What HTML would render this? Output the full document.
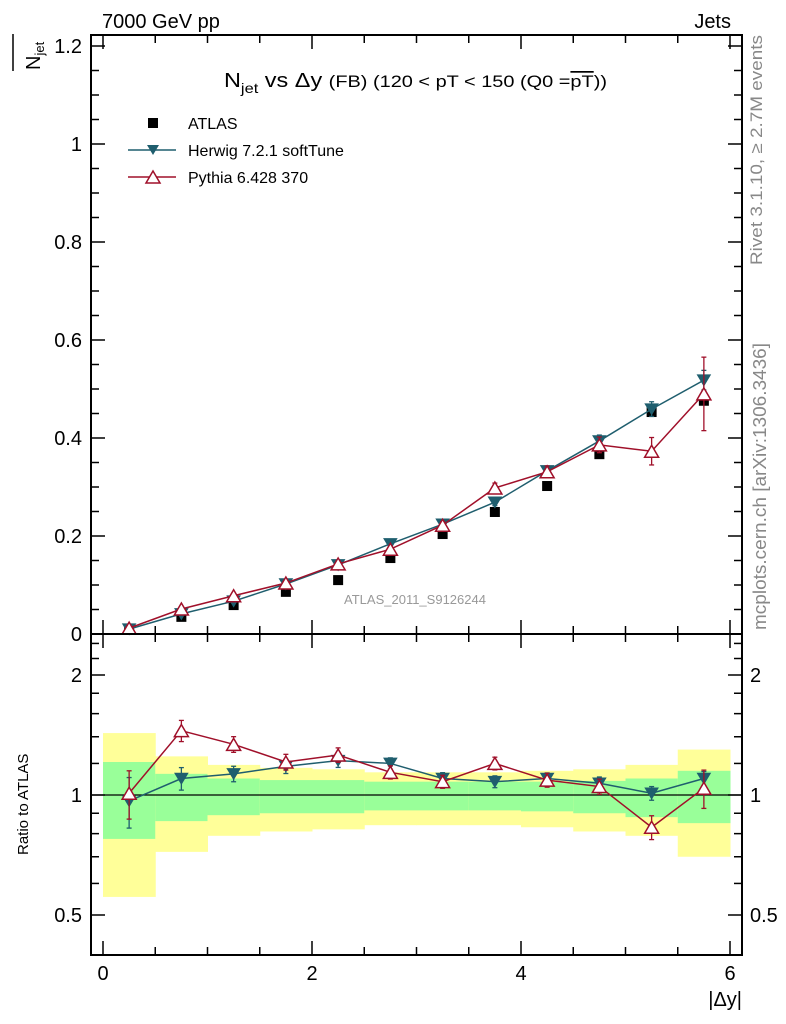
<!DOCTYPE html>
<html><head><meta charset="utf-8"><style>
html,body{margin:0;padding:0;background:#fff;}
svg{display:block;font-family:"Liberation Sans",sans-serif;}
</style></head><body>
<svg id="chart" width="786" height="1024" viewBox="0 0 786 1024" xmlns="http://www.w3.org/2000/svg">
<g id="bands"></g>
<g id="grid"></g>
<g id="series"></g>
<rect x="91" y="35" width="651" height="599" fill="none" stroke="#000" stroke-width="2"/>
<rect x="91" y="634" width="651" height="321" fill="none" stroke="#000" stroke-width="2"/>
<text x="102" y="28" font-size="20">7000 GeV pp</text>
<text x="731" y="28" font-size="20" text-anchor="end">Jets</text>
<text x="224" y="87" font-size="20" textLength="383" lengthAdjust="spacingAndGlyphs">N<tspan font-size="14" dy="6">jet</tspan><tspan dy="-6"> vs Δy </tspan><tspan font-size="17">(FB) (120 &lt; pT &lt; 150 (Q0 =</tspan><tspan font-size="17" text-decoration="overline">pT</tspan><tspan font-size="17">))</tspan></text>
<g transform="translate(40,70) rotate(-90)"><text font-size="20" x="0" y="0">N<tspan font-size="13" dy="4">jet</tspan></text></g>
<line x1="13" y1="34" x2="13" y2="71" stroke="#000" stroke-width="1.5"/>
<g transform="translate(28,855) rotate(-90)"><text font-size="15">Ratio to ATLAS</text></g>
<text x="742" y="1006" font-size="20" text-anchor="end">|Δy|</text>
<g transform="translate(762,265) rotate(-90)"><text font-size="17" fill="#888" textLength="230" lengthAdjust="spacingAndGlyphs">Rivet 3.1.10, ≥ 2.7M events</text></g>
<g transform="translate(766,630) rotate(-90)"><text font-size="18" fill="#888" textLength="287" lengthAdjust="spacingAndGlyphs">mcplots.cern.ch [arXiv:1306.3436]</text></g>
<text x="415" y="604" font-size="13" fill="#999" text-anchor="middle">ATLAS_2011_S9126244</text>
<g>
<rect x="148" y="118" width="10" height="10" fill="#000"/>
<text x="188" y="129" font-size="16">ATLAS</text>
<line x1="128" y1="150" x2="176" y2="150" stroke="#1f5e6e" stroke-width="1.5"/>
<path d="M147,145 L159,145 L153,155 Z" fill="#1f5e6e"/>
<text x="188" y="156" font-size="16">Herwig 7.2.1 softTune</text>
<line x1="128" y1="177" x2="176" y2="177" stroke="#a0102a" stroke-width="1.5"/>
<path d="M146,183 L160,183 L153,171 Z" fill="#fff" stroke="#a0102a" stroke-width="1.5"/>
<text x="188" y="183" font-size="16">Pythia 6.428 370</text>
</g>
</svg>
<script>
const xCenters=[0.25,0.75,1.25,1.75,2.25,2.75,3.25,3.75,4.25,4.75,5.25,5.75];
const atlasVals=[0.010,0.035,0.059,0.086,0.110,0.155,0.204,0.249,0.302,0.367,0.453,0.476];
const herwigVals=[0.010,0.041,0.067,0.102,0.141,0.184,0.224,0.269,0.333,0.394,0.459,0.518];
const herwigErr=[0.002,0.003,0.003,0.004,0.005,0.005,0.006,0.007,0.008,0.012,0.015,0.02];
const pythiaVals=[0.012,0.051,0.078,0.104,0.143,0.173,0.222,0.298,0.331,0.386,0.373,0.490];
const pythiaErr=[0.002,0.004,0.004,0.005,0.006,0.006,0.007,0.01,0.012,0.016,0.028,0.075];
const herwigRatio=[0.966,1.10,1.13,1.18,1.22,1.20,1.10,1.08,1.10,1.07,1.01,1.10];
const pythiaRatio=[1.01,1.45,1.34,1.21,1.26,1.14,1.08,1.20,1.09,1.05,0.83,1.04];
const yellowHi=[1.43,1.25,1.19,1.17,1.16,1.14,1.14,1.14,1.15,1.16,1.19,1.30];
const yellowLo=[0.555,0.72,0.79,0.81,0.82,0.84,0.84,0.84,0.83,0.81,0.79,0.70];
const greenHi=[1.21,1.13,1.10,1.09,1.09,1.08,1.08,1.08,1.08,1.085,1.10,1.15];
const greenLo=[0.776,0.86,0.89,0.90,0.90,0.915,0.915,0.915,0.91,0.90,0.88,0.85];
const xTicks=[0,2,4,6];
const yTicks=[0,0.2,0.4,0.6,0.8,1,1.2];
const rTicks=[0.5,1,2];

const NS='http://www.w3.org/2000/svg';
const X=v=>103+v*104.5;
const Y=v=>634-v*490;
const R=v=>795-Math.log2(v)*120;
function mk(tag,attrs,parent){const e=document.createElementNS(NS,tag);for(const k in attrs)e.setAttribute(k,attrs[k]);parent.appendChild(e);return e;}
const bands=document.getElementById('bands'),grid=document.getElementById('grid'),ser=document.getElementById('series');
xCenters.forEach((c,i)=>{
 const y=mk('rect',{x:X(c-0.25),y:R(yellowHi[i]),width:104.5/2+0.5,height:R(yellowLo[i])-R(yellowHi[i]),fill:'#ffff99'},bands);
 
 
 const g=mk('rect',{x:X(c-0.25),y:R(greenHi[i]),width:104.5/2+0.5,height:R(greenLo[i])-R(greenHi[i]),fill:'#99ff99'},bands);
 
 
});
mk('line',{x1:91,x2:742,y1:R(1),y2:R(1),stroke:'#000','stroke-width':1.3},bands);
for(let v=0;v<=6.001;v+=0.5){
 const major=Math.abs(v-Math.round(v/2)*2)<1e-6;const L=major?14:8;
 [[634,634-L],[35,35+L],[955,955-L],[634,634+L]].forEach(p=>mk('line',{x1:X(v),x2:X(v),y1:p[0],y2:p[1],stroke:'#000','stroke-width':1.5},grid));
}
xTicks.forEach(v=>{const t=mk('text',{x:X(v),y:980,'font-size':20,'text-anchor':'middle'},grid);t.textContent=v;
 
 });
for(let v=0;v<=1.2001;v+=0.05){const major=Math.abs(v*5-Math.round(v*5))<1e-6;const L=major?14:8;
 mk('line',{x1:91,x2:91+L,y1:Y(v),y2:Y(v),stroke:'#000','stroke-width':1.5},grid);
 mk('line',{x1:742,x2:742-L,y1:Y(v),y2:Y(v),stroke:'#000','stroke-width':1.5},grid);}
yTicks.forEach(v=>{const t=mk('text',{x:82,y:Y(v)+7,'font-size':20,'text-anchor':'end'},grid);t.textContent=String(v);
 
 });
[0.5,0.6,0.7,0.8,0.9,1,1.2,1.4,1.6,1.8,2,2.2,2.4].forEach(v=>{const major=rTicks.includes(v);const L=major?14:8;
 mk('line',{x1:91,x2:91+L,y1:R(v),y2:R(v),stroke:'#000','stroke-width':1.5},grid);
 mk('line',{x1:742,x2:742-L,y1:R(v),y2:R(v),stroke:'#000','stroke-width':1.5},grid);});
rTicks.forEach(v=>{[[82,'end'],[750,'start']].forEach(p=>{const t=mk('text',{x:p[0],y:R(v)+7,'font-size':20,'text-anchor':p[1]},grid);t.textContent=String(v);
 
 });});
function line(vals,fy,col,name){const pts=xCenters.map((c,i)=>X(c)+','+fy(vals[i])).join(' ');
 const p=mk('polyline',{points:pts,fill:'none',stroke:col,'stroke-width':1.5},ser);
 
 }
function errs(vals,err,fy,col){xCenters.forEach((c,i)=>{const a=fy(vals[i]-err[i]),b=fy(vals[i]+err[i]);
 mk('line',{x1:X(c),x2:X(c),y1:a,y2:b,stroke:col,'stroke-width':1.3},ser);
 mk('line',{x1:X(c)-2.5,x2:X(c)+2.5,y1:a,y2:a,stroke:col,'stroke-width':1.3},ser);
 mk('line',{x1:X(c)-2.5,x2:X(c)+2.5,y1:b,y2:b,stroke:col,'stroke-width':1.3},ser);});}
function tri(vals,fy,col,down,name){xCenters.forEach((c,i)=>{const x=X(c),y=fy(vals[i]);
 const d=down?`M${x-6},${y-5} L${x+6},${y-5} L${x},${y+5} Z`:`M${x-7},${y+6} L${x+7},${y+6} L${x},${y-6} Z`;
 const p=mk('path',{d:d,fill:down?col:'#fff',stroke:col,'stroke-width':1.5},ser);
 
 });}
xCenters.forEach((c,i)=>{const r=mk('rect',{x:X(c)-5,y:Y(atlasVals[i])-5,width:10,height:10,fill:'#000'},ser);
 
 });
line(herwigVals,Y,'#1f5e6e','herwig-line');
errs(herwigVals,herwigErr,Y,'#1f5e6e');
tri(herwigVals,Y,'#1f5e6e',true,'herwig-point');
line(pythiaVals,Y,'#a0102a','pythia-line');
errs(pythiaVals,pythiaErr,Y,'#a0102a');
tri(pythiaVals,Y,'#a0102a',false,'pythia-point');
const hRErr=herwigErr.map((e,i)=>e/atlasVals[i]*0.6+0.02);
const pRErr=pythiaErr.map((e,i)=>e/atlasVals[i]*0.6+0.02);
line(herwigRatio,R,'#1f5e6e','herwig-ratio-line');
errs(herwigRatio,hRErr,R,'#1f5e6e');
tri(herwigRatio,R,'#1f5e6e',true,'herwig-ratio-point');
line(pythiaRatio,R,'#a0102a','pythia-ratio-line');
errs(pythiaRatio,pRErr,R,'#a0102a');
tri(pythiaRatio,R,'#a0102a',false,'pythia-ratio-point');
</script>
</body></html>
